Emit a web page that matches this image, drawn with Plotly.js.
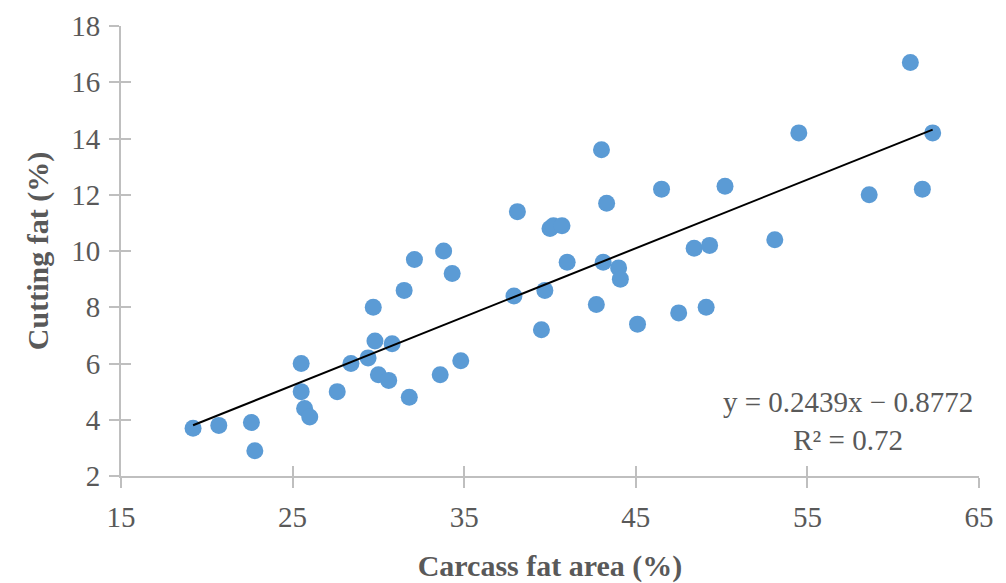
<!DOCTYPE html>
<html>
<head>
<meta charset="utf-8">
<script src="https://cdn.plot.ly/plotly-3.0.1.min.js"></script>
<style>
html,body{margin:0;padding:0;background:#fff;}
#chart{width:1006px;height:583px;}
</style>
</head>
<body>
<div id="chart"></div>
<script>
// Carcass fat area (%)
const carcassFatArea = [19.2, 20.7, 22.6, 22.8, 25.5, 25.5, 25.7, 26.0, 27.6, 28.4,
  29.4, 29.7, 29.8, 30.0, 30.6, 30.8, 31.5, 31.8, 32.1, 33.6,
  33.8, 34.3, 34.8, 37.9, 38.1, 39.5, 39.7, 40.0, 40.2, 40.7,
  41.0, 42.7, 43.0, 43.1, 43.3, 44.0, 44.1, 45.1, 46.5, 47.5,
  48.4, 49.1, 49.3, 50.2, 53.1, 54.5, 58.6, 61.0, 61.7, 62.3];
// Cutting fat (%)
const cuttingFat = [3.7, 3.8, 3.9, 2.9, 6.0, 5.0, 4.4, 4.1, 5.0, 6.0,
  6.2, 8.0, 6.8, 5.6, 5.4, 6.7, 8.6, 4.8, 9.7, 5.6,
  10.0, 9.2, 6.1, 8.4, 11.4, 7.2, 8.6, 10.8, 10.9, 10.9,
  9.6, 8.1, 13.6, 9.6, 11.7, 9.4, 9.0, 7.4, 12.2, 7.8,
  10.1, 8.0, 10.2, 12.3, 10.4, 14.2, 12.0, 16.7, 12.2, 14.2];
// Linear trendline reported on the chart
const trendSlope = 0.2439;
const trendIntercept = -0.8772;
const trendLabel = "y = 0.2439x − 0.8772<br>R² = 0.72";
const xTicks = [15, 25, 35, 45, 55, 65];
const yTicks = [2, 4, 6, 8, 10, 12, 14, 16, 18];

const xMin = Math.min(...carcassFatArea), xMax = Math.max(...carcassFatArea);
const trendX = [xMin, xMax];
const trendY = trendX.map(v => trendSlope * v + trendIntercept);

const grey = '#595959';
const axisCol = '#BFBFBF';
const fontFam = '"Liberation Serif", "DejaVu Serif", serif';

const traces = [
  {
    x: carcassFatArea, y: cuttingFat, type: 'scatter', mode: 'markers',
    marker: {color: '#5B9BD5', size: 17, line: {width: 0}},
    hoverinfo: 'x+y', showlegend: false
  },
  {
    x: trendX, y: trendY, type: 'scatter', mode: 'lines',
    line: {color: '#000000', width: 2}, showlegend: false, hoverinfo: 'skip'
  },
  {
    x: [null], y: [null], xaxis: 'x2', yaxis: 'y2', type: 'scatter',
    mode: 'markers', showlegend: false, hoverinfo: 'skip'
  }
];

const layout = {
  width: 1006, height: 583,
  margin: {l: 121, r: 27, t: 26, b: 107, pad: 0},
  paper_bgcolor: '#ffffff', plot_bgcolor: '#ffffff',
  font: {family: fontFam, color: grey},
  xaxis: {
    range: [15, 65], tickvals: xTicks, ticktext: xTicks.map(String),
    showgrid: false, zeroline: false,
    showline: true, linecolor: axisCol, linewidth: 2,
    ticks: 'outside', ticklen: 10, tickwidth: 2, tickcolor: axisCol,
    ticklabelstandoff: 4,
    tickfont: {size: 29, color: grey, family: fontFam},
    title: {text: 'Carcass fat area (%)', font: {size: 30, color: grey, family: fontFam, weight: 'bold'}, standoff: 28}
  },
  yaxis: {
    range: [2, 18], tickvals: yTicks, ticktext: yTicks.map(String),
    showgrid: false, zeroline: false,
    showline: true, linecolor: axisCol, linewidth: 2,
    ticks: 'outside', ticklen: 10, tickwidth: 2, tickcolor: axisCol,
    ticklabelstandoff: 3,
    tickfont: {size: 29, color: grey, family: fontFam},
    title: {text: 'Cutting fat (%)', font: {size: 30, color: grey, family: fontFam, weight: 'bold'}, standoff: 14}
  },
  xaxis2: {
    overlaying: 'x', anchor: 'y2', side: 'bottom', range: [15, 65], tickvals: xTicks,
    showticklabels: false, showgrid: false, zeroline: false, showline: false,
    ticks: 'inside', ticklen: 10, tickwidth: 2, tickcolor: axisCol
  },
  yaxis2: {
    overlaying: 'y', anchor: 'x2', side: 'left', range: [2, 18], tickvals: yTicks,
    showticklabels: false, showgrid: false, zeroline: false, showline: false,
    ticks: 'inside', ticklen: 10, tickwidth: 2, tickcolor: axisCol
  },
  annotations: [{
    x: 57.36, y: 3.95, xref: 'x', yref: 'y', text: trendLabel, showarrow: false,
    align: 'center', xanchor: 'center', yanchor: 'middle',
    font: {size: 29, color: grey, family: fontFam}
  }]
};

Plotly.newPlot('chart', traces, layout, {displayModeBar: false, staticPlot: true});
</script>
</body>
</html>
